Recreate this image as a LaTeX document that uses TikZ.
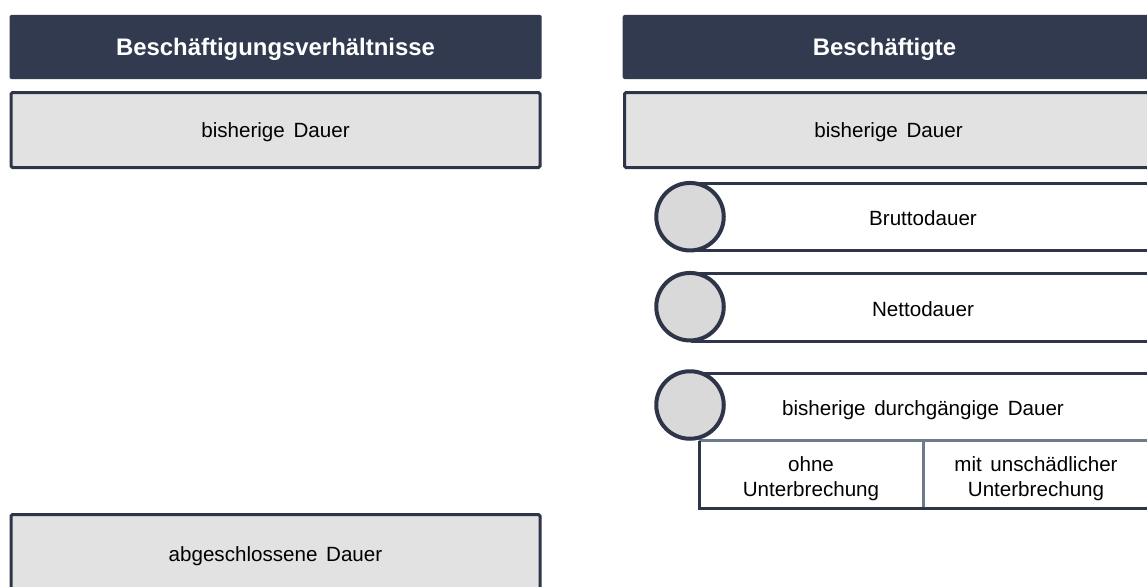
\documentclass[tikz,border=0pt]{standalone}
\usepackage{fontspec}
\setmainfont{Liberation Sans}
\definecolor{navy}{HTML}{323A4F}
\definecolor{edge}{HTML}{2E3549}
\definecolor{panel}{HTML}{E2E2E2}
\definecolor{dot}{HTML}{D9D9D9}
\definecolor{divider}{HTML}{6F7A8B}
% body font with slightly wider word spacing
\newcommand{\bodyfnt}{\fontsize{20.6}{25}\selectfont\spaceskip=0.42em plus 0.1em\relax}
\tikzset{
  head/.style={fill=navy, draw=none, rounded corners=2pt, inner sep=0pt},
  headtext/.style={text=white, font=\fontsize{23.9}{28}\selectfont\bfseries, inner sep=0pt, anchor=base},
  panelbox/.style={fill=panel, draw=edge, line width=3pt, rounded corners=1.5pt, inner sep=0pt},
  edgeline/.style={draw=edge, line width=3pt},
  thinline/.style={draw=divider, line width=3pt},
  bullet/.style={circle, fill=dot, draw=edge, line width=4pt, minimum size=67.5pt, inner sep=0pt},
  body/.style={text=black, font=\bodyfnt, inner sep=0pt, align=center},
  textline/.style={body, anchor=base},
}
\begin{document}
\begin{tikzpicture}[x=1pt, y=-1pt]
\useasboundingbox (0,0) rectangle (1147,586);

% column headers
\node[head, minimum width=532.2pt, minimum height=64pt] (hl) at (275.6,47) {};
\node[headtext] (hltext) at (275.5,56) {Beschäftigungsverhältnisse};
\node[head, minimum width=550pt, minimum height=64pt] (hr) at (897.7,47) {};
\node[headtext] (hrtext) at (884.5,56) {Beschäftigte};

% left column panels
\node[panelbox, minimum width=529pt, minimum height=75pt] (bl) at (275.5,130) {};
\node[textline] (bltext) at (275.5,137.7) {bisherige Dauer};
\node[panelbox, minimum width=529pt, minimum height=85pt] (al) at (275.5,557) {};
\node[textline] (altext) at (275.5,561) {abgeschlossene Dauer};

% right column panel
\node[panelbox, minimum width=545pt, minimum height=75pt] (br) at (897,130) {};
\node[textline] (brtext) at (888.5,137.7) {bisherige Dauer};

% row 1: Bruttodauer
\coordinate (r1a) at (691,183.3);
\coordinate (r1b) at (1160,183.3);
\coordinate (r1c) at (691,250.7);
\coordinate (r1d) at (1160,250.7);
\draw[edgeline] (r1a) -- (r1b);
\draw[edgeline] (r1c) -- (r1d);
\node[bullet] (c1) at (690,216.7) {};
\node[textline] (t1) at (923,225) {Bruttodauer};

% row 2: Nettodauer
\coordinate (r2a) at (691,273.3);
\coordinate (r2b) at (1160,273.3);
\coordinate (r2c) at (691,341);
\coordinate (r2d) at (1160,341);
\draw[edgeline] (r2a) -- (r2b);
\draw[edgeline] (r2c) -- (r2d);
\node[bullet] (c2) at (690,306.7) {};
\node[textline] (t2) at (923,316) {Nettodauer};

% row 3: durchgaengige Dauer with two sub cells
\coordinate (r3a) at (691,373.5);
\coordinate (r3b) at (1160,373.5);
\coordinate (r3c) at (699,440.5);
\coordinate (r3d) at (1160,440.5);
\coordinate (r3e) at (699,508.5);
\coordinate (r3f) at (1160,508.5);
\coordinate (r3g) at (923.5,440.5);
\coordinate (r3h) at (923.5,508.5);
\draw[edgeline] (r3a) -- (r3b);
\draw[thinline] (r3c) -- (r3d);
\draw[thinline] (r3g) -- (r3h);
\draw[edgeline] (r3c) -- (r3e) -- (r3f);
\node[bullet] (c3) at (690,405) {};
\node[textline] (t3) at (923,415) {bisherige durchgängige Dauer};
\node[body] (s1) at (811,478.9) {ohne\\Unterbrechung};
\node[body] (s2) at (1036,478.9) {mit unschädlicher\\Unterbrechung};
\end{tikzpicture}
\end{document}
